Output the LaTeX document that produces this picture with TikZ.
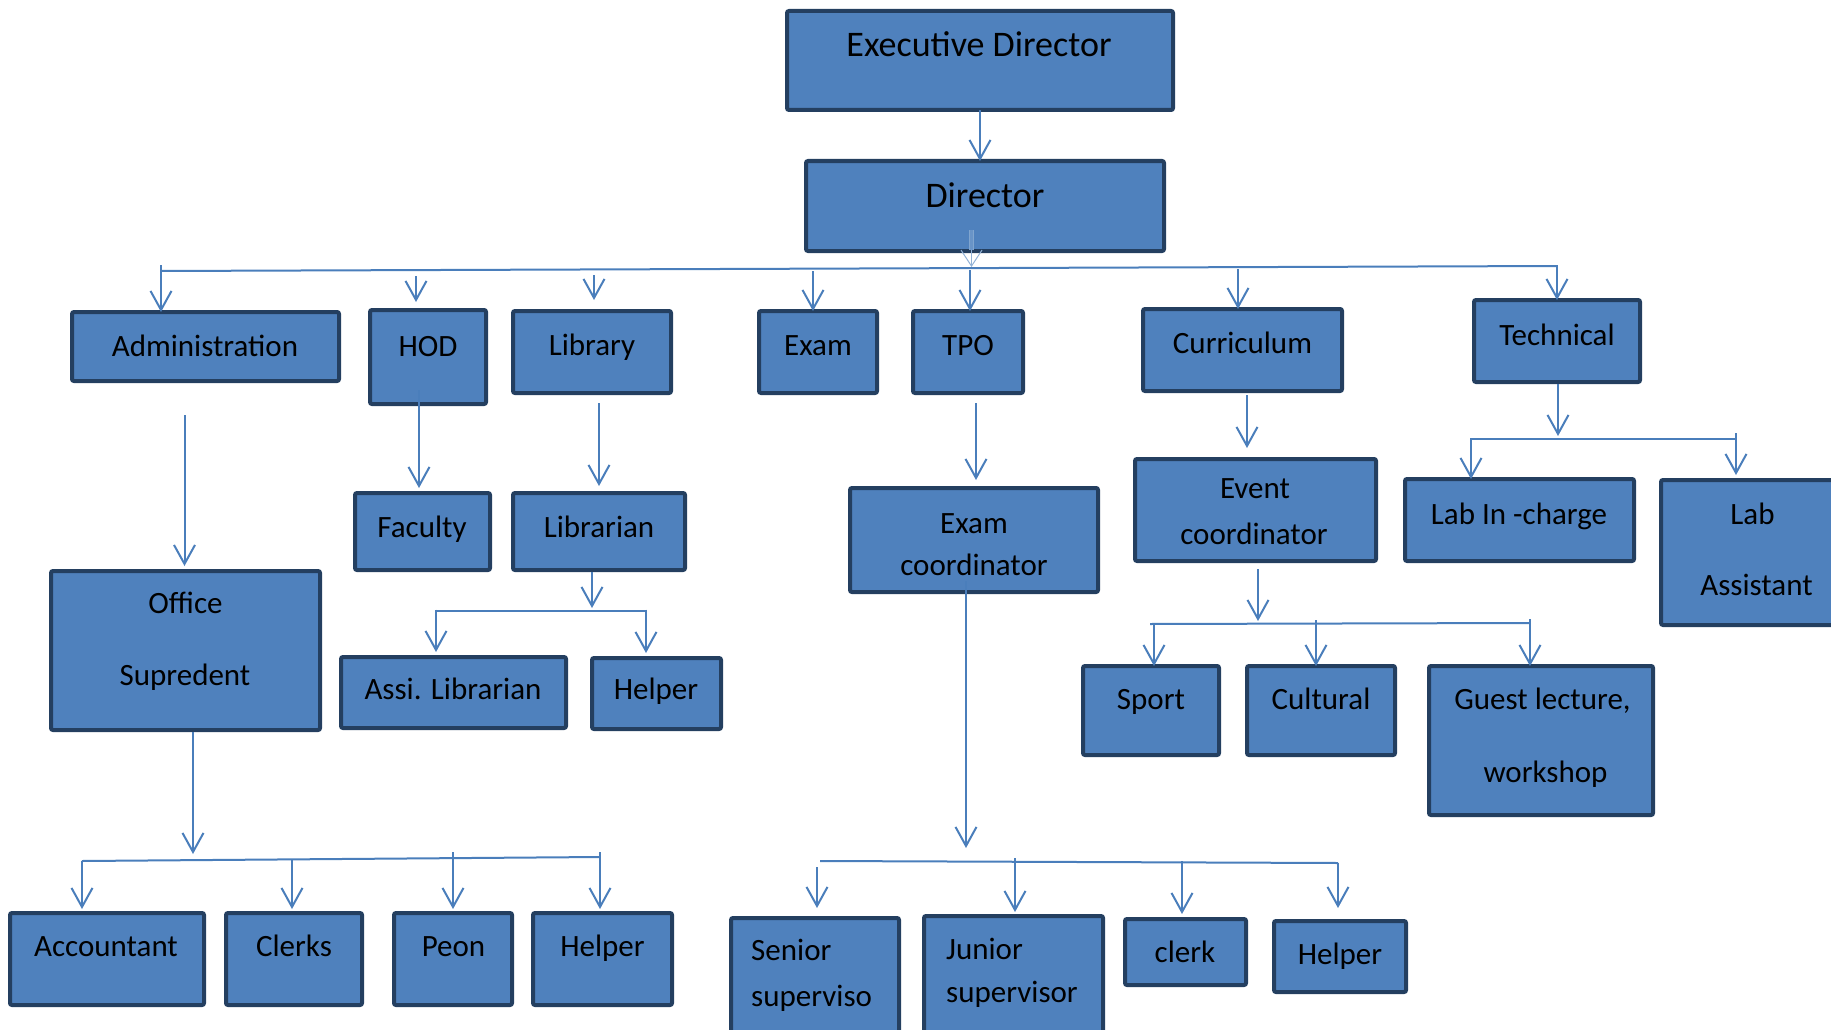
\documentclass[tikz,border=0pt]{standalone}
\usepackage{fontspec}
\setmainfont{Carlito}
\usetikzlibrary{arrows.meta}
\definecolor{boxfill}{HTML}{4F81BD}
\definecolor{boxline}{HTML}{243F60}
\definecolor{conncol}{HTML}{4A7EBB}
\newcommand\bx[5]{\path ({(#2+#4)/2},{(#3+#5)/2}) node[box, minimum width={#4-#2-4}, minimum height={#5-#3-4}] (#1) {};}
\begin{document}
\begin{tikzpicture}[x=1pt,y=-1pt,
  box/.style={draw=boxline, fill=boxfill, line width=4pt, rounded corners=2pt, inner sep=0pt, outer sep=0pt},
  txt/.style={font=\fontsize{31}{37}\selectfont, text=black, inner sep=0pt, anchor=base},
  bigtxt/.style={txt, font=\fontsize{36}{43}\selectfont},
  conn/.style={draw=conncol, line width=2pt, -{Straight Barb[length=19pt,width=21pt]}},
  bus/.style={draw=conncol, line width=2pt},
]
\useasboundingbox (0,0) rectangle (1831,1030);
\clip (0,0) rectangle (1831,1030);

% boxes
\bx{ed}{785}{9}{1175}{112}
\bx{dir}{804}{159}{1166}{253}
\bx{adm}{70}{310}{341}{383}
\bx{hod}{368}{308}{488}{406}
\bx{lib}{511}{309}{673}{395}
\bx{exam}{757}{309}{879}{395}
\bx{tpo}{911}{309}{1025}{395}
\bx{cur}{1141}{307}{1344}{393}
\bx{tec}{1472}{298}{1642}{384}
\bx{off}{49}{569}{322}{732}
\bx{fac}{353}{491}{492}{572}
\bx{lbn}{511}{491}{687}{572}
\bx{exc}{848}{486}{1100}{594}
\bx{evc}{1133}{457}{1378}{563}
\bx{lic}{1403}{477}{1636}{563}
\bx{las}{1659}{478}{1849}{627}
\bx{ali}{339}{655}{568}{730}
\bx{lhp}{590}{656}{723}{731}
\bx{spt}{1081}{664}{1221}{757}
\bx{cul}{1245}{664}{1397}{757}
\bx{gst}{1427}{664}{1655}{817}
\bx{acc}{8}{911}{206}{1007}
\bx{clk}{224}{911}{364}{1007}
\bx{peo}{392}{911}{514}{1007}
\bx{ahp}{531}{911}{674}{1007}
\bx{sen}{729}{916}{901}{1045}
\bx{jun}{922}{914}{1105}{1045}
\bx{ecl}{1123}{917}{1248}{987}
\bx{ehp}{1272}{919}{1408}{994}

% texts
\node[bigtxt] (ed-t) at (979,57) {Executive Director};
\node[bigtxt] (dir-t) at (985,207) {Director};
\node[txt] (adm-t) at (205,356) {Administration};
\node[txt] (hod-t) at (428,356) {HOD};
\node[txt] (lib-t) at (592,355) {Library};
\node[txt] (exam-t) at (818,355) {Exam};
\node[txt] (tpo-t) at (968,355) {TPO};
\node[txt] (cur-t) at (1242.5,353) {Curriculum};
\node[txt] (tec-t) at (1557,345) {Technical};
\node[txt] (fac-t) at (422,537) {Faculty};
\node[txt] (lbn-t) at (599,537) {Librarian};
\node[txt] (off-t1) at (185.5,613) {Office};
\node[txt] (off-t2) at (185,685) {Supredent};
\node[txt] (ali-t) at (453,699) {Assi. Librarian};
\node[txt] (lhp-t) at (656,699) {Helper};
\node[txt] (exc-t1) at (974,533) {Exam};
\node[txt] (exc-t2) at (974,575) {coordinator};
\node[txt] (evc-t1) at (1255,498) {Event};
\node[txt] (evc-t2) at (1254,544) {coordinator};
\node[txt] (lic-t) at (1519,524) {Lab In -charge};
\node[txt] (las-t1) at (1752.5,524) {Lab};
\node[txt] (las-t2) at (1756.5,595) {Assistant};
\node[txt] (spt-t) at (1151,709) {Sport};
\node[txt] (cul-t) at (1321,709) {Cultural};
\node[txt] (gst-t1) at (1542.5,709) {Guest lecture,};
\node[txt] (gst-t2) at (1545.5,782) {workshop};
\node[txt] (acc-t) at (106,956) {Accountant};
\node[txt] (clk-t) at (294,956) {Clerks};
\node[txt] (peo-t) at (453.5,956) {Peon};
\node[txt] (ahp-t) at (602.5,956) {Helper};
\node[txt, anchor=base west] (sen-t1) at (751,960) {Senior};
\node[txt, anchor=base west] (sen-t2) at (751,1006) {superviso};
\node[txt, anchor=base west] (jun-t1) at (946,959) {Junior};
\node[txt, anchor=base west] (jun-t2) at (946,1002) {supervisor};
\node[txt] (ecl-t) at (1185,962) {clerk};
\node[txt] (ehp-t) at (1340,964) {Helper};

% Executive Director -> Director
\draw[conn] (ed.south) -- (ed.south |- dir.north);

% Director -> main bus (faint double arrow)
\coordinate (d1) at (971.5,230);
\coordinate (d1b) at (971.5,250);
\coordinate (d2) at (971.5,267);
\draw[draw=conncol!70, line width=0.8pt, double=boxfill!85!white, double distance=3pt] (d1) -- (d1b);
\draw[draw=conncol!60, line width=1pt, -{Straight Barb[length=16pt,width=21pt]}] (d1b) -- (d2);

% main bus
\coordinate (b1l) at (161,271);
\coordinate (b1r) at (1557,266);
\draw[bus] (b1l) -- (b1r);
\coordinate (s-adm) at (161,265);
\draw[conn] (s-adm) -- (s-adm |- adm.north);
\coordinate (s-hod) at (416,276); \coordinate (e-hod) at (416,302);
\draw[conn] (s-hod) -- (e-hod);
\coordinate (s-lib) at (594,275); \coordinate (e-lib) at (594,300);
\draw[conn] (s-lib) -- (e-lib);
\coordinate (s-exam) at (813,271);
\draw[conn] (s-exam) -- (s-exam |- exam.north);
\coordinate (s-tpo) at (970,270);
\draw[conn] (s-tpo) -- (s-tpo |- tpo.north);
\coordinate (s-cur) at (1238,269);
\draw[conn] (s-cur) -- (s-cur |- cur.north);
\coordinate (s-tec) at (1557,265);
\draw[conn] (s-tec) -- (s-tec |- tec.north);

% second level
\coordinate (s-off) at (184.5,415); \coordinate (e-off) at (184.5,566);
\draw[conn] (s-off) -- (e-off);
\coordinate (s-fac) at (419,390); \coordinate (e-fac) at (419,488);
\draw[conn] (s-fac) -- (e-fac);
\coordinate (s-lbn) at (599,403); \coordinate (e-lbn) at (599,486);
\draw[conn] (s-lbn) -- (e-lbn);
\coordinate (s-exc) at (976,403); \coordinate (e-exc) at (976,480);
\draw[conn] (s-exc) -- (e-exc);
\coordinate (s-evc) at (1247,395); \coordinate (e-evc) at (1247,448);
\draw[conn] (s-evc) -- (e-evc);

% Technical branch
\coordinate (s-tb) at (1558,384); \coordinate (e-tb) at (1558,436);
\draw[conn] (s-tb) -- (e-tb);
\coordinate (tbl) at (1470,439); \coordinate (tbr) at (1736,439);
\draw[bus] (tbl) -- (tbr);
\coordinate (s-lic) at (1471,439);
\draw[conn] (s-lic) -- (s-lic |- lic.north);
\coordinate (s-las) at (1736,433); \coordinate (e-las) at (1736,475);
\draw[conn] (s-las) -- (e-las);

% Librarian branch
\coordinate (s-lb) at (592,572); \coordinate (e-lb) at (592,608);
\draw[conn] (s-lb) -- (e-lb);
\coordinate (lbl) at (436,610.5); \coordinate (lbr) at (646,610.5);
\draw[bus] (lbl) -- (lbr);
\coordinate (s-ali) at (436,609.5); \coordinate (e-ali) at (436,652);
\draw[conn] (s-ali) -- (e-ali);
\coordinate (s-lhp) at (646,609.5); \coordinate (e-lhp) at (646,653);
\draw[conn] (s-lhp) -- (e-lhp);

% Event branch
\coordinate (s-eb) at (1258,569); \coordinate (e-eb) at (1258,621);
\draw[conn] (s-eb) -- (e-eb);
\coordinate (ebl) at (1150,624); \coordinate (ebr) at (1530,623);
\draw[bus] (ebl) -- (ebr);
\coordinate (s-spt) at (1154,624);
\draw[conn] (s-spt) -- (s-spt |- spt.north);
\coordinate (s-cul) at (1316,620);
\draw[conn] (s-cul) -- (s-cul |- cul.north);
\coordinate (s-gst) at (1530,619);
\draw[conn] (s-gst) -- (s-gst |- gst.north);

% Office branch
\coordinate (s-ob) at (193,732); \coordinate (e-ob) at (193,854);
\draw[conn] (s-ob) -- (e-ob);
\coordinate (obl) at (82,861); \coordinate (obr) at (600,857);
\draw[bus] (obl) -- (obr);
\coordinate (s-acc) at (82,861); \coordinate (e-acc) at (82,909);
\draw[conn] (s-acc) -- (e-acc);
\coordinate (s-clk) at (292,859); \coordinate (e-clk) at (292,909);
\draw[conn] (s-clk) -- (e-clk);
\coordinate (s-peo) at (453,852); \coordinate (e-peo) at (453,909);
\draw[conn] (s-peo) -- (e-peo);
\coordinate (s-ahp) at (600,852); \coordinate (e-ahp) at (600,909);
\draw[conn] (s-ahp) -- (e-ahp);

% Exam coordinator branch
\coordinate (s-xb) at (966,581); \coordinate (e-xb) at (966,848);
\draw[conn] (s-xb) -- (e-xb);
\coordinate (xbl) at (820,861); \coordinate (xbr) at (1338,863);
\draw[bus] (xbl) -- (xbr);
\coordinate (s-sen) at (817,867); \coordinate (e-sen) at (817,908);
\draw[conn] (s-sen) -- (e-sen);
\coordinate (s-jun) at (1015,858); \coordinate (e-jun) at (1015,912);
\draw[conn] (s-jun) -- (e-jun);
\coordinate (s-ecl) at (1182,861); \coordinate (e-ecl) at (1182,914);
\draw[conn] (s-ecl) -- (e-ecl);
\coordinate (s-ehp) at (1338,863); \coordinate (e-ehp) at (1338,908);
\draw[conn] (s-ehp) -- (e-ehp);
\end{tikzpicture}
\end{document}
